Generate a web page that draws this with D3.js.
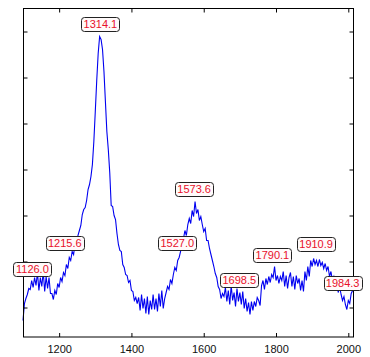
<!DOCTYPE html>
<html><head><meta charset="utf-8">
<script src="https://cdn.jsdelivr.net/npm/d3@7"></script>
<style>body{margin:0;background:#fff}svg{display:block}</style>
</head><body><svg id="c" width="370" height="357"></svg>
<script>
// Raman shift (cm^-1), sampled every 4 units starting at 1100
const shiftStart = 1100, shiftStep = 4;
const intensity = [
 160,330,380,420,480,470,560,490,590,510,
 640,460,590,500,650,450,600,480,590,430,
 430,370,460,420,530,490,590,550,640,610,
 720,680,790,760,850,820,930,890,1010,1060,
 1110,1220,1270,1290,1360,1470,1520,1600,1720,1950,
 2250,2560,2830,3000,2970,2870,2650,2350,2050,1870,
 1640,1310,1300,1210,1170,1030,920,860,850,720,
 690,620,610,540,560,460,450,360,390,330,
 390,260,420,280,380,230,400,220,360,270,
 420,270,380,250,430,300,460,280,380,440,
 500,470,570,530,620,690,660,760,790,850,
 920,980,1060,1010,1120,1180,1130,1260,1200,1350,
 1230,1270,1160,1200,1120,1050,1080,960,960,880,
 820,760,700,630,590,500,470,380,430,400,
 490,350,460,320,510,360,440,300,480,350,
 440,320,450,280,380,250,340,220,350,260,
 350,300,390,360,310,510,560,470,580,520,
 600,540,620,590,700,560,610,530,600,560,
 650,500,610,480,590,640,500,600,470,610,
 530,580,460,560,450,650,560,700,600,760,
 700,780,720,760,700,770,710,740,680,730,
 660,700,600,650,560,600,520,560,440,500,
 420,360,400,320,270,360,330,430,460
];
const xTicks = [1200, 1400, 1600, 1800, 2000];
const yTicks = [290, 750, 1210, 1670, 2130, 2590, 3050];
const peakLabels = [1126.0, 1215.6, 1314.1, 1527.0, 1573.6, 1698.5, 1790.1, 1910.9, 1984.3];
const peakLabelY = [675, 935, 3130, 935, 1480, 570, 820, 930, 535];

const shifts = intensity.map((_, i) => shiftStart + i * shiftStep);
const svg = d3.select('#c');
const L = 23, R = 353, T = 8, B = 336.5;
const x = d3.scaleLinear().domain([1100, 2013]).range([L, R]);
const y = d3.scaleLinear().domain([0, 3285]).range([B, T]);

svg.append('rect').attr('width', 370).attr('height', 357).attr('fill', '#fff');

const line = d3.line().x((d, i) => x(shifts[i])).y(d => y(d));
svg.append('path').datum(intensity).attr('d', line)
  .attr('fill', 'none').attr('stroke', '#0000f0').attr('stroke-width', 1.1);

// frame
svg.append('rect').attr('x', L + 0.5).attr('y', T + 0.5).attr('width', R - L).attr('height', B - T)
  .attr('fill', 'none').attr('stroke', '#000').attr('stroke-width', 1);

const fontFam = 'Arial, "Liberation Sans", Helvetica, sans-serif';
const tk = 4;
const gb = svg.append('g').attr('transform', `translate(0,${B + 0.5})`)
  .call(d3.axisBottom(x).tickValues(xTicks).tickFormat(d3.format('d')).tickSizeInner(-tk).tickSizeOuter(0).tickPadding(8));
const gt = svg.append('g').attr('transform', `translate(0,${T + 0.5})`)
  .call(d3.axisTop(x).tickValues(xTicks).tickFormat('').tickSizeInner(-tk).tickSizeOuter(0));
const gl = svg.append('g').attr('transform', `translate(${L + 0.5},0)`)
  .call(d3.axisLeft(y).tickValues(yTicks).tickFormat('').tickSizeInner(-tk).tickSizeOuter(0));
const gr = svg.append('g').attr('transform', `translate(${R + 0.5},0)`)
  .call(d3.axisRight(y).tickValues(yTicks).tickFormat('').tickSizeInner(-tk).tickSizeOuter(0));
[gb, gt, gl, gr].forEach(g => { g.select('.domain').remove(); g.selectAll('line').attr('stroke', '#000'); });
gb.selectAll('text').attr('font-family', fontFam).attr('font-size', 11).attr('fill', '#111');

// peak labels
const lg = svg.append('g');
peakLabels.forEach((p, i) => {
  const cx = x(p), cy = y(peakLabelY[i]);
  const g = lg.append('g');
  g.append('rect').attr('x', Math.round(cx - 19) + 0.5).attr('y', Math.round(cy - 7) + 0.5)
    .attr('width', 38).attr('height', 14).attr('rx', 3)
    .attr('fill', '#fffafa').attr('stroke', '#222').attr('stroke-width', 1);
  g.append('text').attr('x', cx).attr('y', cy + 4).attr('text-anchor', 'middle')
    .attr('font-family', fontFam).attr('font-size', 11).attr('fill', '#e8102a')
    .text(p.toFixed(1));
});
</script></body></html>
